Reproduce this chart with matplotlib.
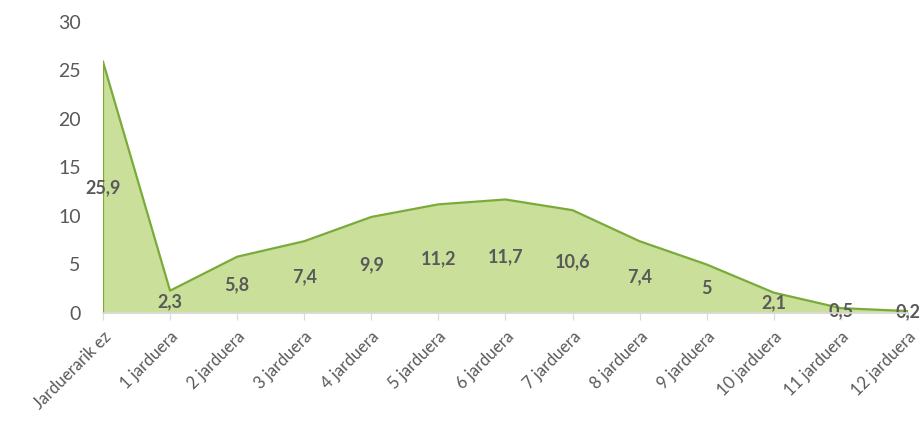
import numpy as np
import matplotlib
matplotlib.use("Agg")
import matplotlib.pyplot as plt
import matplotlib.transforms as mtransforms

categories = ["Jarduerarik ez", "1 jarduera", "2 jarduera", "3 jarduera", "4 jarduera",
              "5 jarduera", "6 jarduera", "7 jarduera", "8 jarduera", "9 jarduera",
              "10 jarduera", "11 jarduera", "12 jarduera"]
values = [25.9, 2.3, 5.8, 7.4, 9.9, 11.2, 11.7, 10.6, 7.4, 5.0, 2.1, 0.5, 0.2]
labels = ["25,9", "2,3", "5,8", "7,4", "9,9", "11,2", "11,7", "10,6", "7,4", "5", "2,1", "0,5", "0,2"]

plt.rcParams["font.family"] = ["Lato", "DejaVu Sans"]
grey = "#595959"

fig = plt.figure(figsize=(9.22, 4.22), dpi=100)
ax = fig.add_axes([0.1117, 0.2583, 0.873, 0.6896])
x = np.arange(len(values))
ax.fill_between(x, values, 0, color="#c9df9a", lw=0)
ax.plot(x, values, color="#7aab3a", lw=1.6)
ax.plot([0, 0], [0, values[0]], color="#7aab3a", lw=1.6)

for xi, v, lbl in zip(x, values, labels):
    ax.text(xi, v / 2, lbl, ha="center", va="center", fontsize=13,
            fontweight="bold", color=grey, clip_on=False)

ax.set_xlim(0, len(values) - 1)
ax.set_ylim(0, 30)
ax.set_yticks(range(0, 31, 5))
ax.set_xticks(x)
ax.set_xticklabels(categories, rotation=45, ha="right", rotation_mode="anchor",
                   fontsize=12, color=grey)
shift = mtransforms.ScaledTranslation(-5 / 100, 0, fig.dpi_scale_trans)
for t in ax.get_xticklabels():
    t.set_transform(t.get_transform() + shift)
ax.tick_params(axis="y", length=0, labelsize=14, labelcolor=grey, pad=16)
ax.tick_params(axis="x", length=5, color="#d9d9d9", pad=6)
for sp in ("left", "right", "top"):
    ax.spines[sp].set_visible(False)
ax.spines["bottom"].set_color("#d9d9d9")
ax.spines["bottom"].set_linewidth(1.2)
ax.spines["bottom"].set_zorder(3)

fig.savefig("out.png", dpi=100)
